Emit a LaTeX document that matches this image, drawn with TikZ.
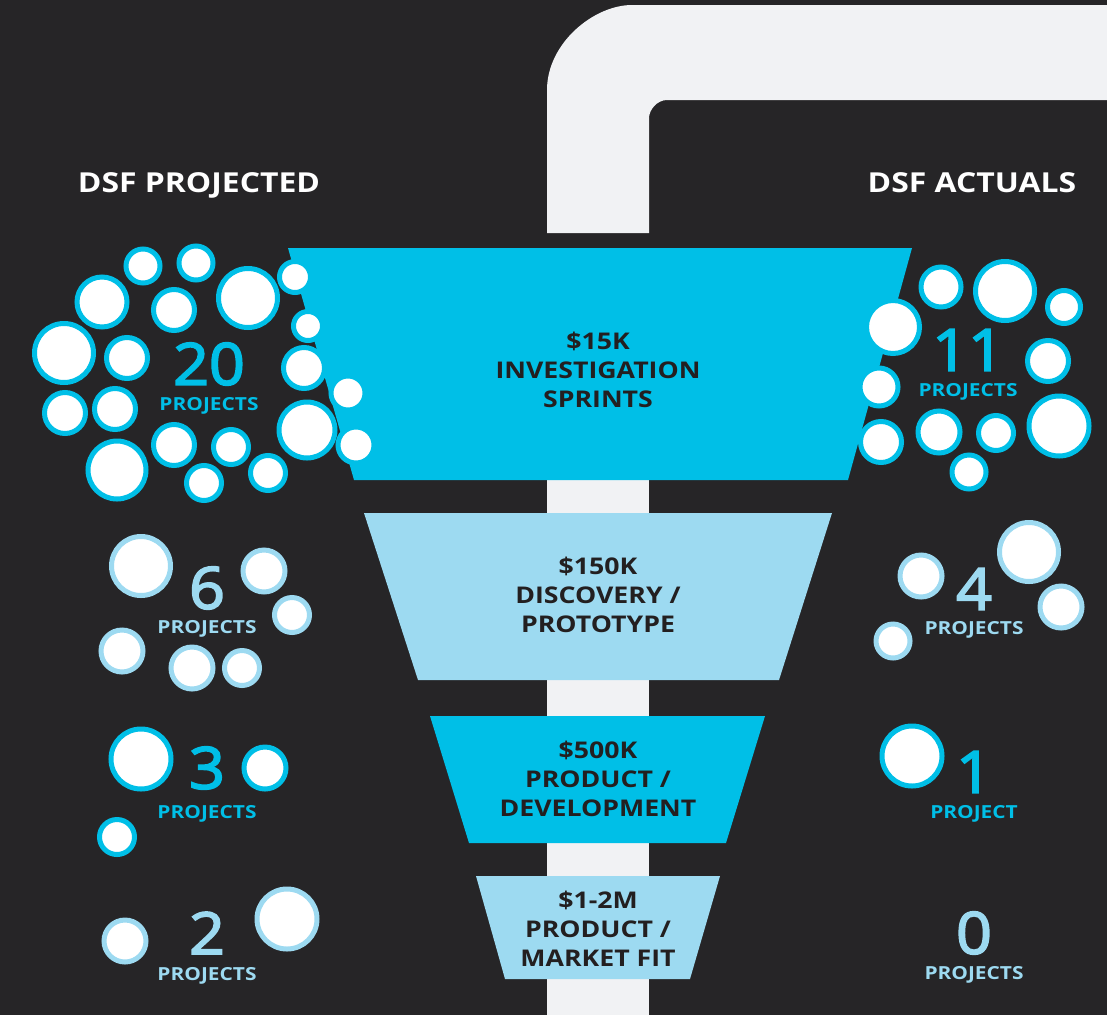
\documentclass[tikz,border=0pt]{standalone}
\usepackage{fontspec}
\setmainfont[FakeStretch=1.16]{Open Sans}
\newfontfamily\numfont[FakeStretch=1.08, FakeBold=3]{Open Sans}
\definecolor{bgdark}{HTML}{262527}
\definecolor{pipegray}{HTML}{F1F2F4}
\definecolor{dsfcyan}{HTML}{00BFE7}
\definecolor{dsflight}{HTML}{9DDAF1}
\definecolor{inkdark}{HTML}{231F20}
\begin{document}
\begin{tikzpicture}[x=1pt, y=-1pt,
	bubcyan/.style={draw=dsfcyan, line width=5pt, fill=white},
	bublight/.style={draw=dsflight, line width=5pt, fill=white},
	stagetext/.style={text=inkdark, font=\bfseries\fontsize{23}{29}\selectfont, align=center},
	headtext/.style={text=white, font=\bfseries\fontsize{27.5}{30}\selectfont, anchor=base},
	countnum/.style={font=\numfont\fontsize{58}{60}\selectfont, inner sep=0pt},
	countlbl/.style={font=\bfseries\fontsize{18}{20}\selectfont, anchor=base, inner sep=0pt}]
	\useasboundingbox (0,0) rectangle (1107,1015);
	\fill[bgdark] (0,0) rectangle (1107,1015);
	% pipe
	\fill[pipegray] (547,233) -- (547,90) .. controls (547,43) and (594,5) .. (632,5) -- (1107,5) -- (1107,100) -- (667,100) .. controls (657,100) and (649,110) .. (649,118) -- (649,233) -- cycle;
	\fill[pipegray] (547,470) rectangle (649,1015);
	% funnel
	\fill[dsfcyan] (288,248) -- (912,248) -- (848,480) -- (354,480) -- cycle;
	\fill[dsflight] (364,513) -- (832,513) -- (779,680) -- (418,680) -- cycle;
	\fill[dsfcyan] (430,716) -- (765,716) -- (726,843) -- (469,843) -- cycle;
	\fill[dsflight] (476,876) -- (720,876) -- (690,979) -- (505,979) -- cycle;
	\node[stagetext] (sprints) at (598,370) {\$15K\\INVESTIGATION\\SPRINTS};
	\node[stagetext] (discovery) at (598,595) {\$150K\\DISCOVERY /\\PROTOTYPE};
	\node[stagetext] (develop) at (598,779) {\$500K\\PRODUCT /\\DEVELOPMENT};
	\node[stagetext] (marketfit) at (598,929) {\$1-2M\\PRODUCT /\\MARKET FIT};
	% headings
	\node[headtext] (projhead) at (199,192) {DSF PROJECTED};
	\node[headtext] (acthead) at (972,192) {DSF ACTUALS};
	% bubbles, projected
	\foreach \x/\y/\r in {143/266/17, 196/263/17, 102/302/25, 174/310/20.5, 248/298/29.5,
		295/277/15.5, 308/326/14.5, 64/353/29.5, 127/358/20.5, 304/368/20.5, 348/393/17,
		65/413/20.5, 115/409/20.5, 307/430/28, 356/445/18, 174/445/20.5, 231/447/17.5,
		117/470/29, 204/483/17.5, 268/473/17.5}
		\draw[bubcyan] (\x,\y) circle (\r);
	\foreach \x/\y/\r in {141/566/29.5, 264/571/21, 292/615/17.5, 122/651/21, 192/668/21, 242/668/17.5}
		\draw[bublight] (\x,\y) circle (\r);
	\foreach \x/\y/\r in {141/759/30, 265/768/21, 117/837/17.5}
		\draw[bubcyan] (\x,\y) circle (\r);
	\foreach \x/\y/\r in {125/941/21, 287/919/30}
		\draw[bublight] (\x,\y) circle (\r);
	% bubbles, actuals
	\foreach \x/\y/\r in {941/287/20, 1005/291/29.5, 1064/307/16.5, 893/327/26.5, 1048/361/20.5,
		879/387/19, 1059/426/30, 881/442/20.5, 939/432/21, 996/433/17.5, 969/472/17}
		\draw[bubcyan] (\x,\y) circle (\r);
	\foreach \x/\y/\r in {921/576/21, 1029/552/29.5, 1061/607/21, 893/641/17}
		\draw[bublight] (\x,\y) circle (\r);
	\draw[bubcyan] (912,756) circle (30);
	% counts
	\node[countnum, text=dsfcyan] (projA) at (209,364) {20};
	\node[countlbl, text=dsfcyan] (projAlbl) at (209,410) {PROJECTS};
	\node[countnum, text=dsflight] (projB) at (207,588) {6};
	\node[countlbl, text=dsflight] (projBlbl) at (207,633) {PROJECTS};
	\node[countnum, text=dsfcyan] (projC) at (207,768) {3};
	\node[countlbl, text=dsfcyan] (projClbl) at (207,818) {PROJECTS};
	\node[countnum, text=dsflight] (projD) at (207,933) {2};
	\node[countlbl, text=dsflight] (projDlbl) at (207,980) {PROJECTS};
	\node[countnum, text=dsfcyan] (actA) at (968,350) {11};
	\node[countlbl, text=dsfcyan] (actAlbl) at (968,396) {PROJECTS};
	\node[countnum, text=dsflight] (actB) at (974,589) {4};
	\node[countlbl, text=dsflight] (actBlbl) at (974,634) {PROJECTS};
	\node[countnum, text=dsfcyan] (actC) at (974,772) {1};
	\node[countlbl, text=dsfcyan] (actClbl) at (974,818) {PROJECT};
	\node[countnum, text=dsflight] (actD) at (974,933) {0};
	\node[countlbl, text=dsflight] (actDlbl) at (974,979) {PROJECTS};
\end{tikzpicture}
\end{document}
